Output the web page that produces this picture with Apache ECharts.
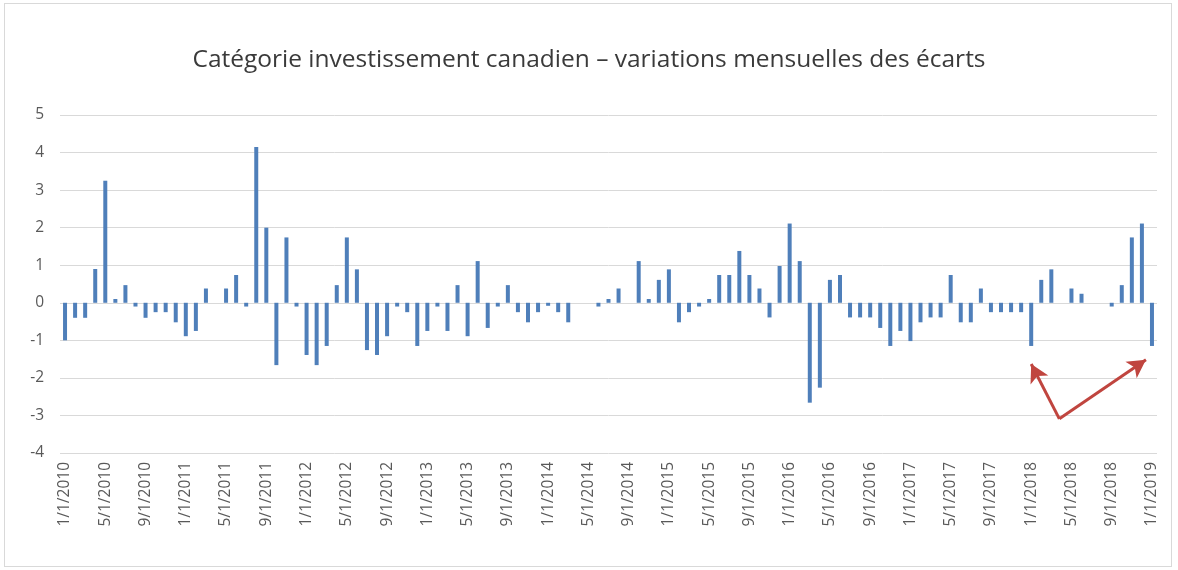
<!DOCTYPE html>
<html>
<head>
<meta charset="utf-8">
<script src="https://cdn.jsdelivr.net/npm/echarts@6/dist/echarts.min.js"></script>
<style>
  html, body { margin: 0; padding: 0; background: #fff; }
  #frame { position: absolute; left: 4px; top: 3px; width: 1166px; height: 562px; border: 1px solid #d9d9d9; }
  #chart { position: absolute; left: 0; top: 0; width: 1178px; height: 570px; }
</style>
</head>
<body>
<div id="frame"></div>
<div id="chart"></div>
<script>
// monthly dates 1/1/2010 .. 1/1/2019
const months = [];
for (let y = 2010; y <= 2019; y++) {
  for (let m = 1; m <= 12; m++) {
    if (y === 2019 && m > 1) break;
    months.push(m + '/1/' + y);
  }
}

// variations mensuelles des écarts
const spreads = [
  -1.0, -0.4, -0.4, 0.9, 3.25, 0.1, 0.47, -0.1, -0.4, -0.25, -0.25, -0.52,   // 2010
  -0.89, -0.75, 0.38, 0, 0.38, 0.74, -0.1, 4.15, 2.0, -1.66, 1.74, -0.1,      // 2011
  -1.39, -1.66, -1.15, 0.47, 1.74, 0.89, -1.26, -1.39, -0.89, -0.1, -0.25, -1.15, // 2012
  -0.75, -0.1, -0.75, 0.47, -0.89, 1.11, -0.67, -0.1, 0.47, -0.25, -0.52, -0.25,  // 2013
  -0.08, -0.25, -0.52, 0, 0, -0.1, 0.1, 0.38, 0, 1.11, 0.1, 0.61,             // 2014
  0.89, -0.52, -0.25, -0.1, 0.1, 0.74, 0.74, 1.38, 0.74, 0.38, -0.39, 0.98,   // 2015
  2.11, 1.11, -2.66, -2.26, 0.61, 0.74, -0.39, -0.39, -0.39, -0.67, -1.15, -0.75, // 2016
  -1.02, -0.52, -0.39, -0.39, 0.74, -0.52, -0.52, 0.38, -0.25, -0.25, -0.25, -0.25, // 2017
  -1.15, 0.61, 0.89, 0, 0.38, 0.24, 0, 0, -0.1, 0.47, 1.74, 2.11,            // 2018
  -1.15                                                                      // 2019
];

const yTicks = [-4, -3, -2, -1, 0, 1, 2, 3, 4, 5];

// annotation arrows (month index, value)
const arrowApex = [98.8, -3.09];
const arrowLeftTip = [96.0, -1.63];
const arrowRightTip = [107.4, -1.52];

const chart = echarts.init(document.getElementById('chart'));

const labelColor = '#595959';

var option = {
  animation: false,
  title: {
    text: 'Catégorie investissement canadien – variations mensuelles des écarts',
    left: 'center',
    top: 43,
    textStyle: {
      fontFamily: 'Open Sans',
      fontSize: 24.5,
      fontWeight: 'normal',
      color: '#3a3a3a'
    }
  },
  grid: {
    left: 60,
    right: 21,
    top: 115,
    bottom: 117,
    containLabel: false
  },
  xAxis: [{
    type: 'category',
    data: months,
    axisLine: { show: false, onZero: false },
    axisTick: { show: false },
    axisLabel: {
      interval: 3,
      rotate: 90,
      margin: 9,
      fontFamily: 'Open Sans',
      fontSize: 15.5,
      color: labelColor
    }
  }, {
    type: 'value',
    show: false,
    min: -0.5,
    max: months.length - 0.5
  }],
  yAxis: {
    type: 'value',
    min: yTicks[0],
    max: yTicks[yTicks.length - 1],
    interval: 1,
    axisLine: { show: false },
    axisTick: { show: false },
    axisLabel: {
      margin: 16,
      fontFamily: 'Open Sans',
      fontSize: 15.5,
      color: labelColor
    },
    splitLine: { lineStyle: { color: '#d9d9d9', width: 1 } }
  },
  series: [{
    type: 'bar',
    data: spreads,
    barWidth: 4,
    itemStyle: { color: '#4f7fba' }
  }, {
    type: 'scatter',
    xAxisIndex: 1,
    data: [],
    silent: true,
    markLine: {
      silent: true,
      symbol: ['none', 'arrow'],
      symbolSize: [15, 18],
      label: { show: false },
      lineStyle: { color: '#c0453f', width: 3, type: 'solid' },
      data: [
        [{ coord: arrowApex }, { coord: arrowLeftTip }],
        [{ coord: arrowApex }, { coord: arrowRightTip }]
      ]
    }
  }]
};
chart.setOption(option);
</script>
</body>
</html>
